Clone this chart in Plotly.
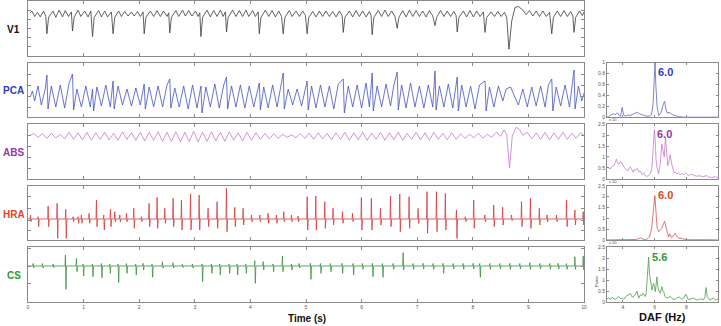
import plotly.graph_objects as go

# ---------------- data ----------------
# V1 surface ECG: (time s, amplitude) vertices
v1_pts = [(0.04,1.7),(0.07,1.9),(0.12,1.3),(0.17,1.75),(0.22,1.25),(0.28,1.9),(0.32,1.3),(0.34,-0.6),(0.37,1.2),
(0.45,1.9),(0.50,1.2),(0.56,2.0),(0.62,1.25),(0.67,1.95),(0.73,1.3),(0.78,1.8),(0.80,-0.3),(0.83,1.2),
(0.90,2.0),(0.95,1.3),(1.02,1.9),(1.08,1.25),(1.13,1.9),(1.16,-0.9),(1.19,1.2),(1.27,1.95),(1.32,1.25),
(1.38,1.9),(1.43,1.25),(1.50,1.8),(1.53,-0.6),(1.56,1.2),(1.63,1.9),(1.68,1.3),(1.74,1.85),(1.80,1.35),
(1.86,1.8),(1.91,1.35),(1.97,1.85),(2.02,1.3),(2.07,1.8),(2.09,-0.6),(2.12,1.2),(2.20,1.9),(2.26,1.3),
(2.32,1.95),(2.38,1.3),(2.44,1.9),(2.50,1.3),(2.53,1.7),(2.55,-0.5),(2.58,1.2),(2.66,1.95),(2.71,1.3),
(2.78,2.0),(2.83,1.35),(2.89,1.95),(2.95,1.35),(3.01,1.9),(3.06,1.3),(3.09,1.7),(3.11,-0.9),(3.14,1.2),
(3.22,2.0),(3.28,1.25),(3.34,1.95),(3.40,1.3),(3.46,2.0),(3.51,1.3),(3.55,1.8),(3.57,-0.4),(3.60,1.2),
(3.68,2.0),(3.74,1.3),(3.80,1.95),(3.86,1.3),(3.92,2.0),(3.97,1.3),(4.04,1.95),(4.09,1.3),(4.14,1.8),
(4.16,-0.6),(4.19,1.2),(4.27,2.0),(4.33,1.3),(4.39,1.95),(4.45,1.25),(4.51,1.9),(4.56,1.3),(4.59,-0.6),
(4.62,1.2),(4.70,1.95),(4.75,1.3),(4.82,1.9),(4.88,1.3),(4.94,1.9),(4.99,1.4),(5.02,-0.6),(5.05,1.2),
(5.12,1.85),(5.18,1.25),(5.24,1.9),(5.30,1.3),(5.36,1.9),(5.42,1.3),(5.48,1.85),(5.54,1.25),(5.60,1.9),
(5.65,1.4),(5.67,-0.45),(5.70,1.2),(5.78,1.9),(5.84,1.25),(5.90,1.95),(5.96,1.3),(6.02,1.9),(6.08,1.25),
(6.14,1.85),(6.17,1.4),(6.19,-0.7),(6.22,1.2),(6.30,1.95),(6.36,1.3),(6.42,2.0),(6.48,1.3),(6.54,1.9),
(6.60,1.3),(6.64,0.0),(6.67,1.2),(6.74,1.95),(6.80,1.25),(6.86,2.0),(6.92,1.3),(6.98,1.95),(7.04,1.3),
(7.10,1.9),(7.16,1.25),(7.22,1.95),(7.28,1.35),(7.32,0.3),(7.35,1.2),(7.42,1.95),(7.48,1.3),(7.54,1.9),
(7.60,1.3),(7.66,1.85),(7.70,1.4),(7.72,-0.4),(7.75,1.2),(7.83,1.9),(7.89,1.25),(7.95,1.95),(8.01,1.25),
(8.07,1.9),(8.13,1.3),(8.19,1.8),(8.22,-0.45),(8.25,1.2),(8.33,1.8),(8.39,1.3),(8.45,1.85),(8.51,1.3),
(8.57,1.75),(8.61,1.2),(8.65,-2.3),(8.70,0.8),(8.76,2.3),(8.82,2.4),(8.90,2.0),(8.96,1.5),(9.02,1.95),
(9.08,1.35),(9.14,1.9),(9.20,1.3),(9.26,1.9),(9.32,1.3),(9.38,1.75),(9.42,-0.6),(9.45,1.2),(9.52,1.9),
(9.58,1.3),(9.64,1.95),(9.70,1.3),(9.76,1.85),(9.80,1.35),(9.82,-0.45),(9.85,1.2),(9.92,1.9),(9.97,1.4),(10.0,1.8)]

# PCA atrial signal vertices
pca_pts = [(0.04,22),(0.08,28),(0.12,18),(0.18,33),(0.24,14),(0.31,30),(0.34,44),(0.36,10),(0.42,33),(0.50,12),
(0.58,34),(0.66,11),(0.74,36),(0.80,45),(0.82,9),(0.88,30),(0.96,12),(1.04,33),(1.12,12),(1.16,30),(1.18,8),
(1.24,32),(1.32,13),(1.40,34),(1.48,12),(1.53,38),(1.55,10),(1.62,33),(1.70,14),(1.78,30),(1.86,13),(1.94,31),
(2.02,14),(2.09,35),(2.11,10),(2.18,32),(2.26,12),(2.34,33),(2.42,12),(2.50,34),(2.55,40),(2.57,11),(2.64,31),
(2.72,12),(2.80,33),(2.88,10),(2.96,34),(3.04,11),(3.11,33),(3.13,6),(3.20,32),(3.28,12),(3.36,35),(3.44,11),
(3.52,34),(3.57,42),(3.59,10),(3.66,33),(3.74,12),(3.82,34),(3.90,11),(3.98,33),(4.06,12),(4.16,36),(4.18,9),
(4.24,32),(4.32,11),(4.40,34),(4.48,12),(4.55,36),(4.59,46),(4.61,10),(4.68,30),(4.76,14),(4.84,30),(4.92,13),
(5.02,38),(5.04,9),(5.10,33),(5.18,11),(5.26,34),(5.34,12),(5.42,33),(5.50,10),(5.58,35),(5.67,40),(5.69,6),
(5.76,33),(5.84,12),(5.92,34),(6.00,11),(6.08,36),(6.14,12),(6.19,46),(6.21,8),(6.28,33),(6.36,12),(6.44,35),
(6.52,13),(6.58,34),(6.64,47),(6.66,9),(6.72,34),(6.80,11),(6.88,36),(6.96,12),(7.04,33),(7.12,11),(7.20,34),
(7.28,12),(7.32,48),(7.34,9),(7.40,33),(7.48,12),(7.56,35),(7.64,11),(7.72,42),(7.74,8),(7.80,34),(7.88,12),
(7.96,33),(8.04,10),(8.12,34),(8.22,38),(8.24,8),(8.30,32),(8.38,12),(8.46,33),(8.54,18),(8.60,30),(8.68,32),
(8.74,24),(8.82,14),(8.90,30),(8.98,12),(9.06,32),(9.14,13),(9.22,33),(9.30,12),(9.36,34),(9.42,40),(9.44,8),
(9.50,32),(9.58,13),(9.66,34),(9.74,12),(9.82,49),(9.84,10),(9.90,33),(9.96,18),(10.0,26)]

# ABS atrial signal vertices
abs_pts = [(0.04,43),(0.10,45),(0.18,41),(0.26,44.5),(0.34,40),(0.42,45),(0.50,40.5),(0.58,44),(0.66,39.5),
(0.74,46),(0.82,39),(0.90,45.5),(0.98,38.5),(1.06,46),(1.14,38),(1.22,45.5),(1.30,39),(1.38,46),(1.46,38.5),
(1.54,45),(1.62,38),(1.70,46.5),(1.78,39),(1.86,45.5),(1.94,38),(2.02,46),(2.10,37.5),(2.18,46),(2.26,38),
(2.34,46.5),(2.42,37),(2.50,46),(2.58,37),(2.66,46.5),(2.74,36.5),(2.82,46),(2.90,37),(2.98,47),(3.06,36.5),
(3.14,46),(3.22,37),(3.30,46.5),(3.38,37.5),(3.46,46),(3.54,37),(3.62,46.5),(3.70,38),(3.78,45.5),(3.86,37.5),
(3.94,46),(4.02,38),(4.10,45.5),(4.18,39),(4.26,45),(4.34,39.5),(4.42,44.5),(4.50,40),(4.58,44),(4.66,41),
(4.74,43.5),(4.82,40.5),(4.90,44.5),(4.98,40),(5.06,45),(5.14,39),(5.22,45.5),(5.30,39.5),(5.38,45),(5.46,38.5),
(5.54,45.5),(5.62,39),(5.70,46),(5.78,38),(5.86,45.5),(5.94,38.5),(6.02,46),(6.10,38),(6.18,45),(6.26,39),
(6.34,46),(6.42,38),(6.50,45.5),(6.58,38.5),(6.66,46),(6.74,38),(6.82,45),(6.90,39),(6.98,46),(7.06,38.5),
(7.14,45.5),(7.22,38),(7.30,46),(7.38,39),(7.46,45),(7.54,38.5),(7.62,45.5),(7.70,39),(7.78,44.5),(7.86,40),
(7.94,44),(8.02,40.5),(8.10,45),(8.18,40),(8.26,44),(8.34,41),(8.42,46),(8.50,42),(8.56,48.5),(8.61,44),
(8.66,10.5),(8.71,42),(8.78,51),(8.84,49),(8.90,43),(8.98,46),(9.06,39.5),(9.14,45.5),(9.22,39),(9.30,46),
(9.38,38.5),(9.46,45.5),(9.54,39),(9.62,46),(9.70,39),(9.78,45),(9.86,40),(9.94,45.5),(10.0,43)]

# HRA bipolar electrogram: spike time, upward peak, downward peak
hra_base = 22.7
hra_t = [0.048,0.186,0.366,0.528,0.683,0.815,0.905,0.965,1.103,1.235,1.367,1.487,1.565,1.655,1.775,1.906,
         2.044,2.182,2.326,2.464,2.614,2.764,2.926,3.082,3.243,3.405,3.573,3.723,3.873,4.023,4.173,4.322,
         4.472,4.604,4.742,4.862,5.025,5.18,5.342,5.49,5.66,5.84,6.0,6.18,6.343,6.523,6.69,6.858,7.02,
         7.18,7.35,7.51,7.71,7.87,8.02,8.22,8.38,8.54,8.70,8.88,9.04,9.2,9.34,9.51,9.69,9.84,9.99]
hra_up = [26.7,25,35.7,38.4,32.4,25,25,26.7,28.4,41.7,26.7,32.4,30,26.7,28.4,33.4,25,38.4,44.4,33.4,43.4,
          41.7,47.7,46.7,33.4,40,53.4,34.4,33.4,26.7,26.7,28.4,26.7,30,26.7,25.7,45,45.7,40,33.4,30,28.4,
          44.4,43.4,33.4,45.7,47.7,45,33.4,50,50,48.4,31.7,25,41.7,26.7,36.7,34.4,26.7,40,43.4,33.4,26.7,
          26.7,41.7,31.7,30]
hra_dn = [20,15,15,3.4,3.4,20,18.4,18.4,18.4,15,11.7,15,20,20,20,13.4,20,15,13.4,18.4,15,11.7,11.7,11.7,
          15,13.4,10,15,16.7,20,20,18.4,18.4,20,20,20,11.7,11.7,13.4,16.7,18.4,20,11.7,11.7,16.7,15,10,13.4,
          18.4,8.4,10,11.7,3.4,20,13.4,20,15,16.7,21,15,13.4,16.7,20,20,15,16.7,16.7]

# CS bipolar electrogram: spike time, upward peak, downward peak
cs_base = 36
cs_t = [0.096,0.264,0.456,0.677,0.875,0.995,1.163,1.325,1.475,1.625,1.775,1.942,2.074,2.236,2.422,2.614,
        2.782,2.962,3.135,3.303,3.453,3.621,3.765,3.921,4.083,4.233,4.412,4.58,4.742,4.88,5.084,5.264,
        5.444,5.653,5.851,6.019,6.199,6.379,6.571,6.751,6.93,7.11,7.29,7.47,7.65,7.83,8.01,8.13,8.31,8.49,
        8.67,8.85,9.03,9.21,9.39,9.54,9.69,9.84,9.99]
cs_up = [38.5,38.5,38,47,43.7,38,38,38.5,38,38,38.5,38,38.7,38,40.3,39.3,38,38,38,38,38,38,38,38,41.3,40.3,
         38,46,38,38.5,38.7,38.5,38.5,38.7,38.5,38.5,38.7,38.5,38.5,49.3,38.5,38.7,38.5,38.7,38.5,38.5,38.7,
         38.5,38.5,38.5,38.7,38.5,39.3,38.5,38.5,38.7,38.5,45.3,46]
cs_dn = [34,34,34.5,12.7,30.3,26,25.3,24.3,28.7,19.3,28.7,27,32,24.7,34,34,34.5,34,20.3,28.7,27,28.7,27,28.7,
         18.7,32,30.3,30.3,32,34,22.7,28.7,30.3,28.7,27,32.7,25.3,24.7,32.7,32,32.7,33,32.7,28.7,33,32.7,33,
         24.7,32.7,33,32.7,33,32.7,33,32.7,33,32.7,32.7,32]

# Spectra: frequency (Hz), power
pca_spec = [(3.0,0.0),(3.1,0.01),(3.25,0.04),(3.4,0.06),(3.55,0.05),(3.65,0.08),(3.75,0.04),(3.85,0.02),
(3.95,0.18),(4.05,0.04),(4.15,0.02),(4.3,0.04),(4.45,0.03),(4.6,0.05),(4.75,0.08),(4.9,0.09),(5.05,0.06),
(5.2,0.04),(5.35,0.03),(5.5,0.02),(5.65,0.02),(5.8,0.05),(5.9,0.25),(5.97,0.7),(6.02,1.0),(6.07,0.6),
(6.15,0.2),(6.25,0.03),(6.4,0.08),(6.55,0.25),(6.62,0.29),(6.7,0.15),(6.8,0.07),(6.9,0.09),(7.0,0.07),
(7.15,0.04),(7.3,0.03),(7.5,0.01),(7.8,0.0),(8.5,0.0),(10.0,0.0)]
abs_spec = [(3.0,0.55),(3.1,0.5),(3.2,0.45),(3.3,0.55),(3.43,0.61),(3.52,0.75),(3.59,0.9),(3.67,0.7),
(3.74,0.66),(3.85,0.8),(3.95,0.72),(4.05,0.55),(4.11,0.5),(4.2,0.42),(4.30,0.36),(4.4,0.5),(4.47,0.55),
(4.56,0.42),(4.64,0.3),(4.72,0.42),(4.78,0.38),(4.86,0.47),(4.93,0.45),(5.02,0.3),(5.10,0.36),(5.2,0.2),
(5.31,0.28),(5.42,0.14),(5.52,0.1),(5.62,0.18),(5.72,0.23),(5.82,0.45),(5.9,1.2),(5.98,2.25),(6.03,1.8),
(6.08,0.9),(6.15,0.5),(6.25,0.23),(6.35,0.7),(6.45,1.59),(6.52,1.3),(6.6,1.0),(6.68,1.9),(6.74,1.2),
(6.82,0.6),(6.9,0.8),(6.98,1.1),(7.06,0.7),(7.15,0.4),(7.22,0.28),(7.29,0.3),(7.4,0.22),(7.5,0.28),
(7.6,0.18),(7.7,0.24),(7.81,0.2),(7.95,0.27),(8.12,0.15),(8.25,0.2),(8.44,0.18),(8.6,0.12),(8.85,0.14),
(9.0,0.09),(9.27,0.15),(9.4,0.08),(9.59,0.06),(9.8,0.1),(10.0,0.03)]
hra_spec = [(3.0,0.02),(3.5,0.02),(4.0,0.03),(4.5,0.03),(4.8,0.04),(5.0,0.08),(5.1,0.12),(5.25,0.06),
(5.41,0.03),(5.55,0.07),(5.66,0.15),(5.8,0.5),(5.9,1.4),(5.97,1.95),(6.01,2.05),(6.08,1.3),(6.15,0.58),
(6.25,0.4),(6.35,0.5),(6.45,0.55),(6.55,0.75),(6.62,0.87),(6.7,0.65),(6.8,0.25),(6.87,0.15),(6.95,0.3),
(7.05,0.12),(7.15,0.2),(7.3,0.33),(7.37,0.2),(7.5,0.1),(7.65,0.1),(7.8,0.06),(8.0,0.03),(8.5,0.03),
(9.0,0.04),(9.5,0.03),(10.0,0.02)]
cs_spec = [(3.0,0.15),(3.11,0.18),(3.22,0.12),(3.33,0.22),(3.43,0.14),(3.53,0.13),(3.64,0.2),(3.74,0.25),
(3.85,0.15),(3.95,0.18),(4.05,0.12),(4.16,0.22),(4.26,0.3),(4.37,0.33),(4.47,0.4),(4.55,0.25),(4.64,0.22),
(4.71,0.3),(4.78,0.33),(4.89,0.5),(4.99,0.18),(5.10,0.33),(5.19,0.28),(5.27,0.4),(5.35,0.3),(5.41,0.25),
(5.47,0.45),(5.52,0.93),(5.58,1.7),(5.62,2.05),(5.67,1.3),(5.72,1.0),(5.78,0.6),(5.83,0.55),(5.93,0.85),
(6.0,0.5),(6.04,0.48),(6.09,0.8),(6.14,1.15),(6.2,0.7),(6.24,0.55),(6.35,0.4),(6.45,0.7),(6.5,0.5),
(6.56,0.48),(6.65,0.25),(6.73,0.18),(6.85,0.2),(6.98,0.26),(7.1,0.15),(7.29,0.12),(7.4,0.2),(7.56,0.22),
(7.7,0.12),(7.81,0.18),(7.96,0.36),(8.05,0.15),(8.12,0.1),(8.3,0.15),(8.44,0.18),(8.6,0.1),(8.75,0.1),
(8.9,0.15),(9.06,0.1),(9.15,0.2),(9.23,0.66),(9.31,0.25),(9.4,0.12),(9.48,0.08),(9.6,0.15),(9.69,0.18),
(9.8,0.1),(9.9,0.1),(10.0,0.15)]

channel_names = ["V1", "PCA", "ABS", "HRA", "CS"]
daf_values = ["6.0", "6.0", "6.0", "5.6"]
daf_freq = [6.02, 5.98, 6.01, 5.62]
time_ticks = list(range(0, 11))
spec_ticks = [4, 6, 8, 10]

# ---------------- styling / layout ----------------
W, H = 721, 326
label_colors = ["#111111", "#2b40c4", "#9a36a8", "#e0462c", "#2f9a35"]
trace_colors = ["#3a3a3a", "#4452c2", "#c27ad0", "#d63a3a", "#3a9240"]
spec_colors = ["#5a66c8", "#c67ad0", "#d95252", "#48a048"]
axis_col = "#8a8a8a"
FONT = "Liberation Sans, Arial, sans-serif"

tops = [1.0, 62.6, 124.2, 185.8, 247.4]
ph = 54.6
left_dom = [28 / W, 584 / W]
right_dom = [607 / W, 718.3 / W]

def ydom(i):
    return [1 - (tops[i] + ph) / H, 1 - tops[i] / H]

def unzip(pts):
    return [p[0] for p in pts], [p[1] for p in pts]

def spikes(ts, ups, dns, base):
    xs, ys = [0.0], [base]
    for t, u, d in zip(ts, ups, dns):
        xs += [t - 0.012, t - 0.004, t + 0.006, t + 0.015]
        ys += [base, u, d, base]
    xs.append(10.0)
    ys.append(base)
    return xs, ys

signals = [unzip(v1_pts), unzip(pca_pts), unzip(abs_pts),
           spikes(hra_t, hra_up, hra_dn, hra_base), spikes(cs_t, cs_up, cs_dn, cs_base)]
yranges = [[-3, 3], [1.8, 1.8 + ph], [-0.5, -0.5 + ph], [1.3, 1.3 + ph], [0, ph]]
yticks = [[-2, -1, 0, 1, 2], [11.7, 22.7, 33.7, 44.3], [10.2, 20.8, 31.8, 42.5],
          [11, 21.7, 33.4, 45], [18.7, 36, 53.3]]

fig = go.Figure()
layout = {}
for i in range(5):
    n = i + 1
    xs, ys = signals[i]
    fig.add_trace(go.Scatter(x=xs, y=ys, mode="lines", xaxis=f"x{n}", yaxis=f"y{n}",
                             line=dict(color=trace_colors[i], width=0.8), hoverinfo="skip"))
    layout[f"xaxis{n}"] = dict(domain=left_dom, anchor=f"y{n}", range=[0, 10], tickvals=time_ticks,
                               ticks="inside", ticklen=3, tickcolor=axis_col, mirror="ticks",
                               showline=True, linecolor=axis_col, linewidth=1, showgrid=False,
                               zeroline=False, showticklabels=(i == 4), automargin=False,
                               tickfont=dict(size=5, color="#555555", family=FONT))
    layout[f"yaxis{n}"] = dict(domain=ydom(i), anchor=f"x{n}", range=yranges[i], tickvals=yticks[i],
                               ticks="inside", ticklen=3, tickcolor=axis_col, mirror="ticks",
                               showline=True, linecolor=axis_col, linewidth=1, showgrid=False,
                               zeroline=False, showticklabels=False, automargin=False)

specs = [pca_spec, abs_spec, hra_spec, cs_spec]
annotations = []
for j in range(4):
    n = 6 + j
    fx, fy = unzip(specs[j])
    fig.add_trace(go.Scatter(x=fx, y=fy, mode="lines", xaxis=f"x{n}", yaxis=f"y{n}",
                             line=dict(color=spec_colors[j], width=0.8), hoverinfo="skip"))
    if j == 0:
        yr, yt, ytt = [0, 1], [0, 0.2, 0.4, 0.6, 0.8, 1], ["0", "0.2", "0.4", "0.6", "0.8", "1"]
    else:
        yr, yt, ytt = [0, 2.5], [0, 0.5, 1, 1.5, 2, 2.5], ["0", "0.5", "1", "1.5", "2", "2.5"]
    layout[f"xaxis{n}"] = dict(domain=right_dom, anchor=f"y{n}", range=[3, 10], tickvals=spec_ticks,
                               ticks="inside", ticklen=2, tickcolor=axis_col, mirror="ticks",
                               showline=True, linecolor=axis_col, linewidth=1, showgrid=False,
                               zeroline=False, showticklabels=(j == 3), automargin=False,
                               tickfont=dict(size=5, color="#555555", family=FONT))
    layout[f"yaxis{n}"] = dict(domain=ydom(j + 1), anchor=f"x{n}", range=yr, tickvals=yt, ticktext=ytt,
                               ticks="inside", ticklen=2, tickcolor=axis_col, mirror="ticks",
                               showline=True, linecolor=axis_col, linewidth=1, showgrid=False,
                               zeroline=False, showticklabels=True, automargin=False,
                               tickfont=dict(size=5, color="#555555", family=FONT))
    annotations.append(dict(x=daf_freq[j], y=yr[1] * 0.97, xref=f"x{n}", yref=f"y{n}",
                            text=f"<b>{daf_values[j]}</b>", showarrow=False, xanchor="left",
                            yanchor="top", xshift=1,
                            font=dict(size=11, color=label_colors[j + 1], family=FONT)))
    if j > 0:
        annotations.append(dict(x=right_dom[0], y=1 - tops[j + 1] / H, xref="paper", yref="paper",
                                text="x 10", showarrow=False, xanchor="left", yanchor="bottom",
                                font=dict(size=4, color="#444444", family=FONT)))

for i in range(5):
    annotations.append(dict(x=14 / W, y=1 - (tops[i] + ph / 2 + 1) / H, xref="paper", yref="paper",
                            text=f"<b>{channel_names[i]}</b>", showarrow=False,
                            xanchor="center", yanchor="middle",
                            font=dict(size=10, color=label_colors[i], family=FONT)))

annotations.append(dict(x=307 / W, y=1 - 318 / H, xref="paper", yref="paper", text="<b>Time (s)</b>",
                        showarrow=False, xanchor="center", yanchor="middle",
                        font=dict(size=10, color="#111111", family=FONT)))
annotations.append(dict(x=662 / W, y=1 - 317 / H, xref="paper", yref="paper", text="<b>DAF (Hz)</b>",
                        showarrow=False, xanchor="center", yanchor="middle",
                        font=dict(size=11, color="#111111", family=FONT)))
annotations.append(dict(x=596 / W, y=1 - 281 / H, xref="paper", yref="paper", text="Power",
                        textangle=-90, showarrow=False, xanchor="center", yanchor="middle",
                        font=dict(size=4, color="#444444", family=FONT)))

fig.update_layout(width=W, height=H, margin=dict(l=0, r=0, t=0, b=0, autoexpand=False), showlegend=False,
                  plot_bgcolor="white", paper_bgcolor="white", annotations=annotations,
                  font=dict(family=FONT), **layout)
fig.write_html("out.html", config={"displayModeBar": False, "staticPlot": True},
               post_script="document.body.style.margin='0';document.body.style.overflow='hidden';")
